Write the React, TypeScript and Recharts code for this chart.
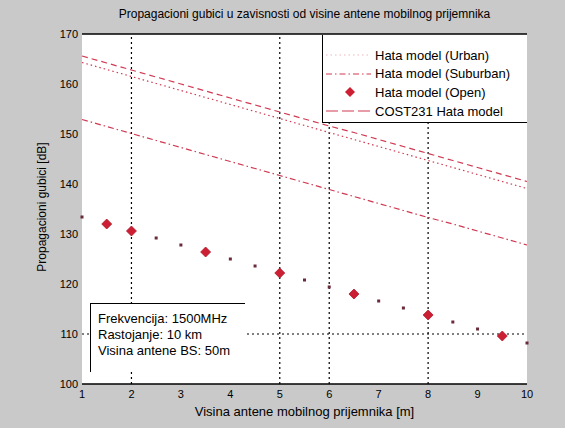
import React from 'react';
import { ComposedChart, Line, XAxis, YAxis, CartesianGrid, ReferenceLine } from 'recharts';

const antennaHeights = [1, 1.5, 2, 2.5, 3, 3.5, 4, 4.5, 5, 5.5, 6, 6.5, 7, 7.5, 8, 8.5, 9, 9.5, 10];
const hataUrban = [164.3, 162.9, 161.5, 160.1, 158.7, 157.3, 155.9, 154.5, 153.1, 151.7, 150.3, 148.9, 147.5, 146.1, 144.7, 143.3, 141.9, 140.5, 139.1];
const hataSuburban = [152.9, 151.5, 150.1, 148.7, 147.3, 145.9, 144.5, 143.1, 141.7, 140.3, 138.9, 137.5, 136.1, 134.7, 133.3, 132.0, 130.6, 129.2, 127.8];
const hataOpen = [133.4, 132.0, 130.6, 129.2, 127.8, 126.4, 125.0, 123.6, 122.2, 120.8, 119.4, 118.0, 116.6, 115.2, 113.8, 112.4, 111.0, 109.6, 108.2];
const cost231 = [165.6, 164.2, 162.8, 161.4, 160.0, 158.6, 157.2, 155.8, 154.4, 153.0, 151.6, 150.3, 148.9, 147.5, 146.1, 144.7, 143.3, 141.9, 140.5];

const xTicks = [1, 2, 3, 4, 5, 6, 7, 8, 9, 10];
const yTicks = [100, 110, 120, 130, 140, 150, 160, 170];
const markedHeights = [2, 5, 6, 8];
const markedLoss = [110];

const titleText = 'Propagacioni gubici u zavisnosti od visine antene mobilnog prijemnika';
const xLabel = 'Visina antene mobilnog prijemnika [m]';
const yLabel = 'Propagacioni gubici [dB]';
const legendLabels = ['Hata model (Urban)', 'Hata model (Suburban)', 'Hata model (Open)', 'COST231 Hata model'];
const noteLines = ['Frekvencija: 1500MHz', 'Rastojanje: 10 km', 'Visina antene BS: 50m'];

const data = antennaHeights.map((h, i) => ({
  h,
  urban: hataUrban[i],
  suburban: hataSuburban[i],
  open: hataOpen[i],
  cost: cost231[i],
}));

const RED = '#cf3a52';
const FONT = '"Liberation Sans", Arial, Helvetica, sans-serif';
const bigMarkerAt = [1.5, 2, 3.5, 5, 6.5, 8, 9.5];

const OpenDot = (props: any) => {
  const { cx, cy, payload, index } = props;
  if (cx == null || cy == null) return <g key={index} />;
  if (bigMarkerAt.includes(payload.h)) {
    return (
      <g key={index}>
        <polygon
          points={`${cx},${cy - 5} ${cx + 5},${cy} ${cx},${cy + 5} ${cx - 5},${cy}`}
          fill="#cc1f33"
          stroke="#b01a2c"
          strokeWidth={0.8}
        />
      </g>
    );
  }
  return <rect key={index} x={cx - 1.5} y={cy - 1.5} width={3} height={3} fill="#6a2a3a" />;
};

export default function App() {
  return (
    <div
      style={{
        position: 'absolute',
        left: 0,
        top: 0,
        width: 565,
        height: 428,
        background: '#c9c9c9',
        fontFamily: FONT,
        overflow: 'hidden',
      }}
    >
      <ComposedChart
        width={565}
        height={428}
        data={data}
        margin={{ top: 34, right: 38, bottom: 14, left: 32 }}
      >
        <CartesianGrid horizontal={false} vertical={false} fill="#ffffff" stroke="none" />
        <XAxis
          dataKey="h"
          type="number"
          domain={[1, 10]}
          ticks={xTicks}
          height={30}
          tickLine={false}
          tickSize={0}
          tickMargin={6}
          axisLine={{ stroke: '#000', strokeWidth: 1.5 }}
          tick={{ fill: '#000', fontSize: 11, fontFamily: FONT }}
          interval={0}
        />
        <YAxis
          type="number"
          domain={[100, 170]}
          ticks={yTicks}
          width={50}
          tickLine={false}
          tickSize={0}
          tickMargin={4}
          axisLine={false}
          tick={{ fill: '#000', fontSize: 11, fontFamily: FONT }}
          interval={0}
        />
        <ReferenceLine y={170} stroke="#000" strokeWidth={1.5} />
        {markedHeights.map((x) => (
          <ReferenceLine key={'vx' + x} x={x} stroke="#000" strokeWidth={1.2} strokeDasharray="2 3" />
        ))}
        {markedLoss.map((y) => (
          <ReferenceLine key={'hy' + y} y={y} stroke="#000" strokeWidth={1.2} strokeDasharray="2 3" />
        ))}
        <Line
          dataKey="cost"
          stroke={RED}
          strokeWidth={1.2}
          strokeDasharray="6 4"
          dot={false}
          activeDot={false}
          isAnimationActive={false}
        />
        <Line
          dataKey="urban"
          stroke={RED}
          strokeWidth={1.2}
          strokeDasharray="1.5 3"
          dot={false}
          activeDot={false}
          isAnimationActive={false}
        />
        <Line
          dataKey="suburban"
          stroke={RED}
          strokeWidth={1.2}
          strokeDasharray="6 3 1.5 3"
          dot={false}
          activeDot={false}
          isAnimationActive={false}
        />
        <Line
          dataKey="open"
          stroke="none"
          dot={OpenDot}
          activeDot={false}
          isAnimationActive={false}
        />
      </ComposedChart>

      {/* Title */}
      <div
        style={{
          position: 'absolute',
          left: 82,
          width: 445,
          top: 7,
          textAlign: 'center',
          fontSize: 12,
          color: '#000',
          whiteSpace: 'nowrap',
        }}
      >
        {titleText}
      </div>

      {/* X label */}
      <div
        style={{
          position: 'absolute',
          left: 82,
          width: 445,
          top: 404,
          textAlign: 'center',
          fontSize: 13,
          color: '#000',
          whiteSpace: 'nowrap',
        }}
      >
        {xLabel}
      </div>

      {/* Y label */}
      <div
        style={{
          position: 'absolute',
          left: 42,
          top: 207,
          transform: 'translate(-50%, -50%) rotate(-90deg)',
          fontSize: 12,
          color: '#000',
          whiteSpace: 'nowrap',
        }}
      >
        {yLabel}
      </div>

      {/* Legend */}
      <div
        style={{
          position: 'absolute',
          left: 322,
          top: 35,
          width: 205,
          height: 88,
          background: '#fff',
          borderLeft: '1.5px solid #000',
          borderBottom: '1.5px solid #000',
          boxSizing: 'border-box',
        }}
      >
        {legendLabels.map((lab, i) => (
          <div
            key={lab}
            style={{
              position: 'absolute',
              left: 0,
              top: 12 + i * 18.7,
              height: 16,
              width: 205,
              display: 'flex',
              alignItems: 'center',
            }}
          >
            <svg width={50} height={14} style={{ display: 'block', flexShrink: 0 }}>
              {i === 0 && (
                <line x1={3} y1={7} x2={48} y2={7} stroke={RED} strokeWidth={1} strokeDasharray="1.5 3" opacity={0.35} />
              )}
              {i === 1 && (
                <line x1={3} y1={7} x2={48} y2={7} stroke={RED} strokeWidth={1.2} strokeDasharray="6 3 1.5 3" />
              )}
              {i === 2 && (
                <polygon points="27,2 32,7 27,12 22,7" fill="#cc1f33" />
              )}
              {i === 3 && (
                <line x1={3} y1={7} x2={48} y2={7} stroke={RED} strokeWidth={1.2} strokeDasharray="12 4" />
              )}
            </svg>
            <span style={{ fontSize: 13, color: '#000', marginLeft: 2, whiteSpace: 'nowrap' }}>{lab}</span>
          </div>
        ))}
      </div>

      {/* Annotation box */}
      <div
        style={{
          position: 'absolute',
          left: 90,
          top: 303,
          width: 155,
          height: 69,
          background: '#fff',
          borderLeft: '1.5px solid #000',
          borderTop: '1.5px solid #000',
          boxSizing: 'border-box',
        }}
      >
        {noteLines.map((t, i) => (
          <div
            key={t}
            style={{
              position: 'absolute',
              left: 7,
              top: 7 + i * 16,
              fontSize: 13,
              color: '#000',
              whiteSpace: 'nowrap',
            }}
          >
            {t}
          </div>
        ))}
      </div>
    </div>
  );
}
